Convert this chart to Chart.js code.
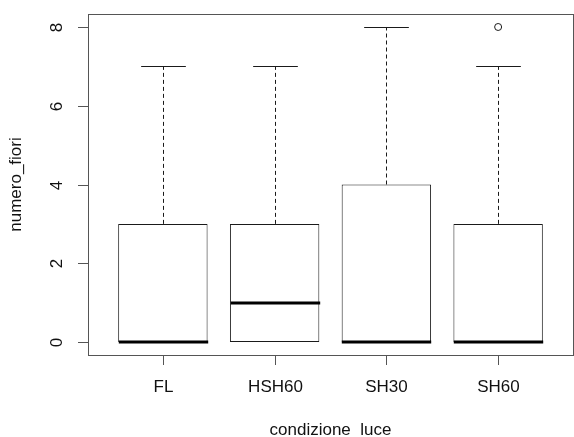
<!DOCTYPE html>
<html>
<head>
<meta charset="utf-8">
<script src="https://cdn.jsdelivr.net/npm/chart.js@4/dist/chart.umd.min.js"></script>
<style>
html,body{margin:0;padding:0;background:#fff;overflow:hidden;width:574px;height:437px;}
#wrap{width:578px;height:437px;}
</style>
</head>
<body>
<div id="wrap"><canvas id="c" width="578" height="437"></canvas></div>
<script>
// ---- data ----
const categories = ["FL", "HSH60", "SH30", "SH60"];
const whiskerLow = [0, 0, 0, 0];
const q1 = [0, 0, 0, 0];
const median = [0, 1, 0, 0];
const q3 = [3, 3, 4, 3];
const whiskerHigh = [7, 7, 8, 7];
const outliers = [[], [], [], [8]];
const yTicks = [0, 2, 4, 6, 8];
const xTitle = "condizione  luce";
const yTitle = "numero_fiori";

const FONT = "'Liberation Sans', Arial, sans-serif";
const LINE = "#1a1a1a";
const FRAME = "#555";

const boxData = categories.map((c, i) => ({x: i + 1, y: [q1[i], q3[i]]}));
const outlierData = [];
outliers.forEach((arr, i) => arr.forEach(v => outlierData.push({x: i + 1, y: v})));

const boxPlugin = {
  id: 'boxExtras',
  afterDatasetsDraw(chart) {
    const ctx = chart.ctx;
    const xs = chart.scales.x, ys = chart.scales.y;
    const unit = xs.getPixelForValue(2) - xs.getPixelForValue(1);
    const capHalf = unit * 0.8 / 4;
    const boxHalf = unit * 0.8 / 2;
    ctx.save();
    categories.forEach((c, i) => {
      const x = Math.round(xs.getPixelForValue(i + 1)) + 0.5;
      ctx.strokeStyle = LINE;
      ctx.lineWidth = 1;
      ctx.setLineDash([4, 3]);
      ctx.beginPath();
      ctx.moveTo(x, ys.getPixelForValue(q3[i]));
      ctx.lineTo(x, ys.getPixelForValue(whiskerHigh[i]));
      ctx.moveTo(x, ys.getPixelForValue(q1[i]));
      ctx.lineTo(x, ys.getPixelForValue(whiskerLow[i]));
      ctx.stroke();
      ctx.setLineDash([]);
      ctx.beginPath();
      if (whiskerHigh[i] !== q3[i]) {
        const yh = Math.round(ys.getPixelForValue(whiskerHigh[i])) + 0.5;
        ctx.moveTo(x - capHalf, yh); ctx.lineTo(x + capHalf, yh);
      }
      if (whiskerLow[i] !== q1[i]) {
        const yl = Math.round(ys.getPixelForValue(whiskerLow[i])) + 0.5;
        ctx.moveTo(x - capHalf, yl); ctx.lineTo(x + capHalf, yl);
      }
      ctx.stroke();
      ctx.lineWidth = 3;
      ctx.strokeStyle = "#000";
      ctx.beginPath();
      const ym = Math.round(ys.getPixelForValue(median[i]));
      ctx.moveTo(x - boxHalf, ym); ctx.lineTo(x + boxHalf, ym);
      ctx.stroke();
    });
    ctx.restore();
  },
  afterDraw(chart) {
    const ctx = chart.ctx;
    const xs = chart.scales.x, ys = chart.scales.y;
    const a = chart.chartArea;
    ctx.save();
    ctx.strokeStyle = FRAME;
    ctx.lineWidth = 1;
    ctx.strokeRect(Math.round(a.left) + 0.5, Math.round(a.top) + 0.5, Math.round(a.right - a.left), Math.round(a.bottom - a.top));
    ctx.fillStyle = "#111";
    ctx.font = "17px " + FONT;
    yTicks.forEach(v => {
      const y = Math.round(ys.getPixelForValue(v)) + 0.5;
      ctx.beginPath();
      ctx.moveTo(a.left, y); ctx.lineTo(a.left - 10, y);
      ctx.stroke();
      ctx.save();
      ctx.translate(57, y);
      ctx.rotate(-Math.PI / 2);
      ctx.textAlign = "center";
      ctx.textBaseline = "middle";
      ctx.fillText(String(v), 0, 0);
      ctx.restore();
    });
    categories.forEach((c, i) => {
      const x = Math.round(xs.getPixelForValue(i + 1)) + 0.5;
      ctx.beginPath();
      ctx.moveTo(x, a.bottom); ctx.lineTo(x, a.bottom + 10);
      ctx.stroke();
      ctx.textAlign = "center";
      ctx.textBaseline = "middle";
      ctx.fillText(c, x, 387);
    });
    ctx.textAlign = "center";
    ctx.textBaseline = "middle";
    ctx.fillText(xTitle, (xs.getPixelForValue(1) + xs.getPixelForValue(4)) / 2, 430);
    ctx.save();
    ctx.translate(16, (a.top + a.bottom) / 2);
    ctx.rotate(-Math.PI / 2);
    ctx.fillText(yTitle, 0, 0);
    ctx.restore();
    ctx.restore();
  }
};

new Chart(document.getElementById('c'), {
  type: 'bar',
  data: {
    datasets: [{
      type: 'bar',
      data: boxData,
      backgroundColor: '#fff',
      borderColor: LINE,
      borderWidth: 1,
      borderSkipped: false,
      categoryPercentage: 1,
      barPercentage: 0.8,
      order: 2
    }, {
      type: 'scatter',
      data: outlierData,
      pointStyle: 'circle',
      radius: 3.5,
      backgroundColor: 'rgba(0,0,0,0)',
      borderColor: LINE,
      borderWidth: 1,
      order: 1
    }]
  },
  options: {
    responsive: false,
    animation: false,
    events: [],
    layout: {padding: {left: 88, top: 14, right: 0, bottom: 82}},
    plugins: {legend: {display: false}, tooltip: {enabled: false}},
    scales: {
      x: {
        type: 'linear', min: 0.33, max: 4.67, display: false, offset: false,
        afterBuildTicks: (scale) => { scale.ticks = categories.map((c, i) => ({value: i + 1})); }
      },
      y: {type: 'linear', min: -0.33, max: 8.33, display: false}
    }
  },
  plugins: [boxPlugin]
});
</script>
</body>
</html>
